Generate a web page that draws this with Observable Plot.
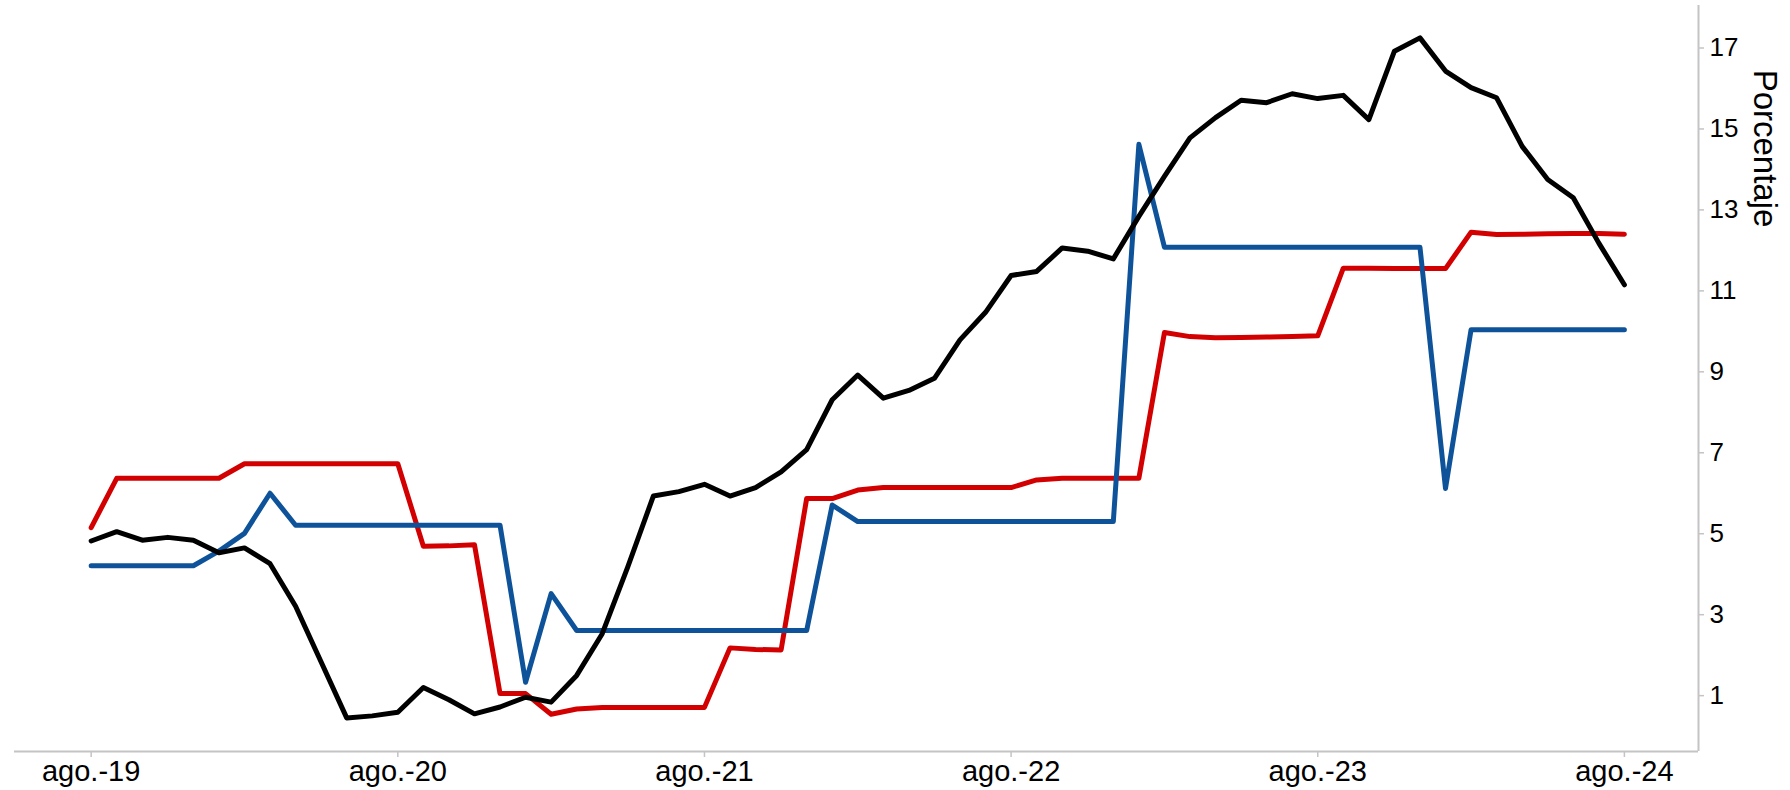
<!DOCTYPE html>
<html>
<head>
<meta charset="utf-8">
<script src="https://cdn.jsdelivr.net/npm/d3@7"></script>
<script src="https://cdn.jsdelivr.net/npm/@observablehq/plot@0.6"></script>
<style>
  html, body { margin: 0; padding: 0; background: #fff; }
  #chart { width: 1790px; height: 790px; }
</style>
</head>
<body>
<div id="chart"></div>
<script>
// Monthly series, ago.-19 .. ago.-24 (61 months)
const serieNegra = [4.82,5.05,4.84,4.91,4.84,4.53,4.65,4.26,3.21,1.83,
  0.45,0.50,0.59,1.20,0.90,0.55,0.72,0.96,0.84,1.50,
  2.53,4.18,5.93,6.04,6.22,5.93,6.14,6.53,7.08,8.31,
  8.92,8.35,8.54,8.84,9.79,10.47,11.38,11.48,12.06,11.98,
  11.79,12.84,13.83,14.78,15.28,15.71,15.65,15.87,15.75,15.83,
  15.23,16.92,17.25,16.43,16.02,15.77,14.57,13.75,13.30,12.18,
  11.15];
const serieRoja = [5.15,6.37,6.37,6.37,6.37,6.37,6.73,6.73,6.73,6.73,
  6.73,6.73,6.73,4.69,4.70,4.73,1.05,1.05,0.54,0.67,
  0.71,0.71,0.71,0.71,0.71,2.18,2.14,2.13,5.87,5.87,
  6.08,6.14,6.14,6.14,6.14,6.14,6.14,6.33,6.37,6.37,
  6.37,6.37,9.97,9.87,9.84,9.85,9.86,9.87,9.89,11.56,
  11.56,11.55,11.55,11.55,12.45,12.39,12.40,12.41,12.42,12.42,
  12.40];
const serieAzul = [4.21,4.21,4.21,4.21,4.21,4.57,5.01,6.00,5.21,5.21,
  5.21,5.21,5.21,5.21,5.21,5.21,5.21,1.33,3.52,2.61,
  2.61,2.61,2.61,2.61,2.61,2.61,2.61,2.61,2.61,5.71,
  5.30,5.30,5.30,5.30,5.30,5.30,5.30,5.30,5.30,5.30,
  5.30,14.62,12.08,12.08,12.08,12.08,12.08,12.08,12.08,12.08,
  12.08,12.08,12.08,6.12,10.04,10.04,10.04,10.04,10.04,10.04,
  10.04];
const etiquetasX = ["ago.-19","ago.-20","ago.-21","ago.-22","ago.-23","ago.-24"];
const posicionesX = [0, 12, 24, 36, 48, 60];
const ticksY = [1, 3, 5, 7, 9, 11, 13, 15, 17];
const tituloY = "Porcentaje";

const xDomain = [-3, 62.9];
const yDomain = [-0.38, 18.05];
const axisGray = "#c4c4c4";
const font = "'Liberation Sans', Arial, sans-serif";

const toRows = arr => arr.map((v, i) => ({i, v}));

const chart = Plot.plot({
  width: 1790,
  height: 790,
  marginLeft: 14,
  marginRight: 92,
  marginTop: 5,
  marginBottom: 39,
  style: {fontFamily: font, background: "#fff", overflow: "visible"},
  x: {type: "linear", domain: xDomain},
  y: {type: "linear", domain: yDomain},
  marks: [
    Plot.ruleY([yDomain[0]], {stroke: axisGray, strokeWidth: 2}),
    Plot.ruleX([xDomain[1]], {stroke: axisGray, strokeWidth: 2}),
    Plot.axisX(posicionesX, {
      tickSize: 6, tickPadding: 3, stroke: axisGray, strokeWidth: 1.5, fill: "#000",
      fontSize: 29, tickFormat: d => etiquetasX[posicionesX.indexOf(d)], label: null
    }),
    Plot.axisY(ticksY, {
      anchor: "right", tickSize: 5, tickPadding: 6, stroke: axisGray, strokeWidth: 1.5, fill: "#000",
      fontSize: 26, label: null
    }),
    Plot.text([tituloY], {
      frameAnchor: "top-right", dx: 66, dy: 143, rotate: 90,
      fontSize: 33, fill: "#000", textAnchor: "middle", lineAnchor: "middle"
    }),
    Plot.line(toRows(serieRoja), {x: "i", y: "v", stroke: "#d20000", strokeWidth: 5}),
    Plot.line(toRows(serieAzul), {x: "i", y: "v", stroke: "#0e539a", strokeWidth: 5}),
    Plot.line(toRows(serieNegra), {x: "i", y: "v", stroke: "#000", strokeWidth: 5})
  ]
});
document.getElementById("chart").appendChild(chart);
</script>
</body>
</html>
